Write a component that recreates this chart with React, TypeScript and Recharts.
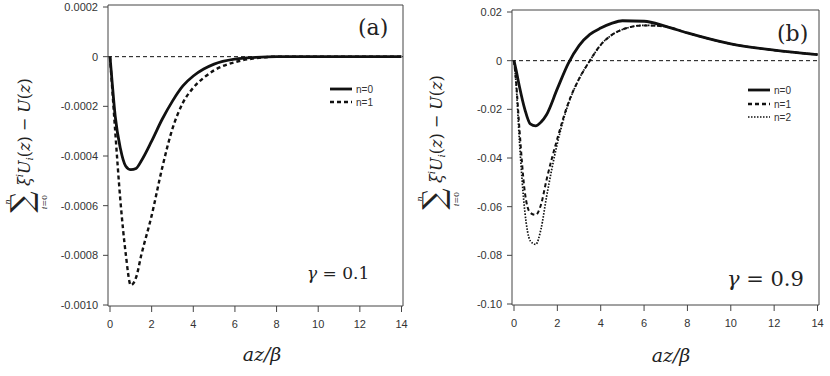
import { LineChart, Line, XAxis, YAxis, ReferenceLine } from 'recharts';

// abscissa az/beta shared by every curve
const zGrid = [0, 0.1, 0.25, 0.5, 0.75, 1, 1.25, 1.5, 2, 2.5, 3, 3.5, 4, 4.5, 5, 6, 7, 8, 10, 12, 14];
const xTicks = [0, 2, 4, 6, 8, 10, 12, 14];

// panel (a), gamma = 0.1
const aN0 = [0, -0.0001, -0.00024, -0.00037, -0.00044, -0.000455, -0.00045, -0.00042, -0.00034, -0.000253, -0.000179, -0.000118, -0.000078, -0.00005, -0.00003, -0.00001, -0.000003, 0, 0, 0, 0];
const aN1 = [0, -0.00012, -0.0003, -0.00058, -0.00079, -0.00092, -0.00089, -0.0008, -0.00064, -0.00045, -0.00029, -0.000186, -0.000125, -0.000085, -0.000055, -0.000022, -0.000006, 0, 0, 0, 0];
const aYTicks = [0.0002, 0, -0.0002, -0.0004, -0.0006, -0.0008, -0.001];

// panel (b), gamma = 0.9
const bN0 = [0, -0.004, -0.0106, -0.02, -0.026, -0.0268, -0.0252, -0.0222, -0.0115, -0.0012, 0.0062, 0.0108, 0.0134, 0.0153, 0.0164, 0.0162, 0.0141, 0.0114, 0.0069, 0.0043, 0.0025];
const bN1 = [0, -0.009, -0.028, -0.054, -0.0625, -0.0634, -0.059, -0.049, -0.032, -0.0175, -0.0075, 0.0, 0.0065, 0.0105, 0.0128, 0.0145, 0.014, 0.0114, 0.0069, 0.0043, 0.0025];
const bN2 = [0, -0.01, -0.033, -0.062, -0.074, -0.0755, -0.069, -0.056, -0.034, -0.018, -0.0075, 0.0, 0.0065, 0.0105, 0.0128, 0.0145, 0.014, 0.0114, 0.0069, 0.0043, 0.0025];
const bYTicks = [0.02, 0, -0.02, -0.04, -0.06, -0.08, -0.1];

const rowsA = zGrid.map((z, i) => ({ z, n0: aN0[i], n1: aN1[i] }));
const rowsB = zGrid.map((z, i) => ({ z, n0: bN0[i], n1: bN1[i], n2: bN2[i] }));

const AXIS = '#444';
const tickFont = { fontSize: 11, fill: '#333', fontFamily: 'Liberation Sans, Arial, sans-serif' };
const SERIF = 'DejaVu Serif, serif';

const solid = { stroke: '#111', strokeWidth: 2.8 };
const dashed = { stroke: '#111', strokeWidth: 2.4, strokeDasharray: '4 3' };
const dotted = { stroke: '#111', strokeWidth: 1.7, strokeDasharray: '1.5 1.5' };

function Panel({ data, left, width, top, xAxisH, yAxisW, right, yDomain, yTicks, fmt, series }: any) {
  return (
    <div style={{ position: 'absolute', left, top: 0 }}>
      <LineChart width={width} height={376} data={data} margin={{ top: top - 1, right: right - 1, bottom: 0, left: 0 }}>
        <XAxis dataKey="z" type="number" domain={[0, 14]} ticks={xTicks} padding={{ left: 2, right: 1.5 }}
          stroke={AXIS} tick={tickFont} tickSize={6} tickMargin={8} height={xAxisH} />
        <XAxis xAxisId="t" dataKey="z" orientation="top" type="number" domain={[0, 14]} stroke={AXIS} tick={false} tickLine={false} height={1} />
        <YAxis type="number" domain={yDomain} ticks={yTicks} allowDataOverflow padding={{ top: 2, bottom: 1 }}
          stroke={AXIS} tick={tickFont} tickSize={5} tickMargin={5} width={yAxisW} tickFormatter={fmt} interval={0} />
        <YAxis yAxisId="r" orientation="right" type="number" domain={yDomain} allowDataOverflow stroke={AXIS} tick={false} tickLine={false} width={1} />
        <ReferenceLine y={0} stroke="#111" strokeWidth={1} strokeDasharray="4 3" />
        {/* invisible series that ties the frame axes (top, right) into the chart */}
        <Line xAxisId="t" yAxisId="r" dataKey="n0" stroke="transparent" dot={false} activeDot={false} isAnimationActive={false} />
        {series.map((s: any) => (
          <Line key={s.key} type="monotone" dataKey={s.key} dot={false} isAnimationActive={false} {...s.style} />
        ))}
      </LineChart>
    </div>
  );
}

function SumLabel({ cx, cy }: { cx: number; cy: number }) {
  return (
    <g transform={`translate(${cx},${cy}) rotate(-90)`} fontFamily={SERIF} fill="#222">
      <text x={-42} y={7} fontSize={30} textAnchor="middle">∑</text>
      <text x={-42} y={-15} fontSize={8} textAnchor="middle" fontStyle="italic">n</text>
      <text x={-42} y={22} fontSize={8} textAnchor="middle"><tspan fontStyle="italic">i</tspan>=0</text>
      <text x={-26} y={5} fontSize={16}>
        <tspan fontStyle="italic">ξ</tspan>
        <tspan fontStyle="italic" fontSize={10} dy={-7}>i</tspan>
        <tspan fontStyle="italic" dy={7}>U</tspan>
        <tspan fontStyle="italic" fontSize={10} dy={3}>i</tspan>
        <tspan dy={-3}>(</tspan>
        <tspan fontStyle="italic">z</tspan>
        <tspan>) − </tspan>
        <tspan fontStyle="italic">U</tspan>
        <tspan>(</tspan>
        <tspan fontStyle="italic">z</tspan>
        <tspan>)</tspan>
      </text>
    </g>
  );
}

function LegendRow({ x, y, label, style }: any) {
  return (
    <g>
      <line x1={x} x2={x + 22} y1={y} y2={y} {...style} />
      <text x={x + 26} y={y + 3.5} fontSize={10} fill="#333" fontFamily="Liberation Sans, Arial, sans-serif">{label}</text>
    </g>
  );
}

export default function App() {
  const fmtA = (v: number) => (v === 0 ? '0' : v.toFixed(4));
  const fmtB = (v: number) => (v === 0 ? '0' : v.toFixed(2));
  return (
    <div style={{ position: 'absolute', left: 0, top: 0, width: 830, height: 376, background: '#fff' }}>
      <Panel data={rowsA} left={0} width={415} top={5} right={12} xAxisH={70} yAxisW={108}
        yDomain={[-0.001, 0.0002]} yTicks={aYTicks} fmt={fmtA}
        series={[{ key: 'n0', style: solid }, { key: 'n1', style: dashed }]} />
      <Panel data={rowsB} left={410} width={420} top={10} right={11} xAxisH={71} yAxisW={102}
        yDomain={[-0.1, 0.02]} yTicks={bYTicks} fmt={fmtB}
        series={[{ key: 'n0', style: solid }, { key: 'n1', style: { ...dashed, strokeWidth: 2 } }, { key: 'n2', style: dotted }]} />
      <svg width={830} height={376} style={{ position: 'absolute', left: 0, top: 0, pointerEvents: 'none' }}>
        <SumLabel cx={25} cy={160} />
        <SumLabel cx={437} cy={157} />
        <text x={358} y={35} fontSize={22} fontFamily={SERIF} fill="#222">(a)</text>
        <text x={777} y={41} fontSize={22} fontFamily={SERIF} fill="#222">(b)</text>
        <text x={307} y={279} fontSize={17} fontFamily={SERIF} fill="#222"><tspan fontStyle="italic">γ</tspan> = 0.1</text>
        <text x={727} y={286} fontSize={21} fontFamily={SERIF} fill="#222"><tspan fontStyle="italic">γ</tspan> = 0.9</text>
        <text x={262} y={361} fontSize={19} fontFamily={SERIF} fontStyle="italic" textAnchor="middle" fill="#222">az/β</text>
        <text x={671} y={362} fontSize={19} fontFamily={SERIF} fontStyle="italic" textAnchor="middle" fill="#222">az/β</text>
        <LegendRow x={330} y={89} label="n=0" style={solid} />
        <LegendRow x={330} y={102} label="n=1" style={dashed} />
        <LegendRow x={748} y={90} label="n=0" style={solid} />
        <LegendRow x={748} y={104} label="n=1" style={dashed} />
        <LegendRow x={748} y={117} label="n=2" style={dotted} />
      </svg>
    </div>
  );
}
